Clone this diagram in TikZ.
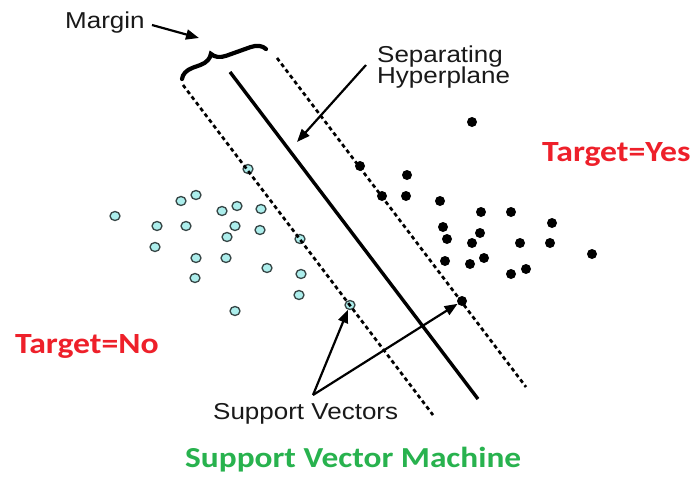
\documentclass[tikz,border=0pt]{standalone}
\usepackage{fontspec}
\newfontfamily\labelfont{Liberation Sans}[FakeStretch=1.13]
\newfontfamily\headfont{Carlito}[FakeStretch=1.15]
\usetikzlibrary{arrows.meta,decorations.pathreplacing}
\definecolor{targetred}{RGB}{238,32,42}
\definecolor{titlegreen}{RGB}{40,178,78}
\definecolor{negfill}{RGB}{172,238,236}
\definecolor{negline}{RGB}{55,70,70}
\tikzset{
  opendot/.style={ellipse,draw=negline,fill=negfill,line width=1.3pt,minimum width=10pt,minimum height=9pt,inner sep=0pt},
  soliddot/.style={circle,fill=black,minimum size=10pt,inner sep=0pt},
  hyperline/.style={line width=3.4pt},
  marginline/.style={line width=2.7pt,dash pattern=on 4pt off 3.2pt},
  pointer/.style={line width=2.2pt,-{Triangle[length=13pt,width=10pt]}},
  plainlabel/.style={anchor=base west,inner sep=0pt,font=\labelfont\fontsize{23}{22}\selectfont,text=black!90},
  targetlabel/.style={anchor=base west,inner sep=0pt,font=\headfont\bfseries\fontsize{29.3}{30}\selectfont,text=targetred},
  titlelabel/.style={anchor=base west,inner sep=0pt,font=\headfont\bfseries\fontsize{29}{30}\selectfont,text=titlegreen}
}
\usetikzlibrary{shapes.geometric}
\begin{document}
\begin{tikzpicture}[x=1pt,y=-1pt]
\useasboundingbox[fill=white] (0,0) rectangle (697,477);

% class "No" samples
\foreach \px/\py [count=\i] in {115/216,157/226,155/247,181/201,196/195,186/226,
    196/258,195/278,222/211,237/206,235/226,227/237,226/258,235/311,
    261/209,260/230,267/268,301/274,299/295}
  \node[opendot] (neg\i) at (\px,\py) {};
% support vectors of class "No"
\node[opendot] (svn1) at (248,169) {};
\node[opendot] (svn2) at (300,239) {};
\node[opendot] (svn3) at (350,305) {};

% class "Yes" samples
\foreach \px/\py [count=\i] in {472/122,407/175,406/196,440/201,481/212,511/212,552/223,
    443/227,480/233,447/239,472/243,520/243,550/243,592/254,445/261,
    470/264,484/258,511/274,526/269}
  \node[soliddot] (pos\i) at (\px,\py) {};
% support vectors of class "Yes"
\node[soliddot] (svp1) at (360,166) {};
\node[soliddot] (svp2) at (382,196) {};
\node[soliddot] (svp3) at (462,301) {};

% hyperplane and margin boundaries
\coordinate (hpA) at (230,72);
\coordinate (hpB) at (478,399);
\coordinate (mlA) at (183,85);
\coordinate (mlB) at (433,415);
\coordinate (mrA) at (277,58);
\coordinate (mrB) at (526,387);
\draw[hyperline] (hpA) -- (hpB);
\draw[marginline] (mlA) -- (mlB);
\draw[marginline] (mrA) -- (mrB);

% margin brace
\coordinate (brA) at (182,79);
\coordinate (brB) at (266,49);
\draw[line width=4.2pt,line cap=round,decorate,
      decoration={brace,amplitude=14pt,aspect=0.4}] (brA) -- (brB);

% labels
\node[plainlabel] (margin) at (65,28) {Margin};
\node[plainlabel] (sep) at (377,62) {Separating};
\node[plainlabel] (hyp) at (377,83) {Hyperplane};
\node[plainlabel] (sv) at (213,419) {Support Vectors};
\node[targetlabel] (yes) at (542,161) {Target=Yes};
\node[targetlabel] (no) at (15,353) {Target=No};
\node[titlelabel] (title) at (185,467) {Support Vector Machine};

% pointers
\coordinate (marginTail) at (152,25);
\coordinate (marginTip) at (199,38);
\draw[pointer] (marginTail) -- (marginTip);
\coordinate (hypTail) at (366,65);
\coordinate (hypTip) at (297,142);
\draw[pointer] (hypTail) -- (hypTip);
\coordinate (svTail) at (313,395);
\draw[pointer] (svTail) -- (svn3);
\draw[pointer] (svTail) -- (svp3);
\end{tikzpicture}
\end{document}
